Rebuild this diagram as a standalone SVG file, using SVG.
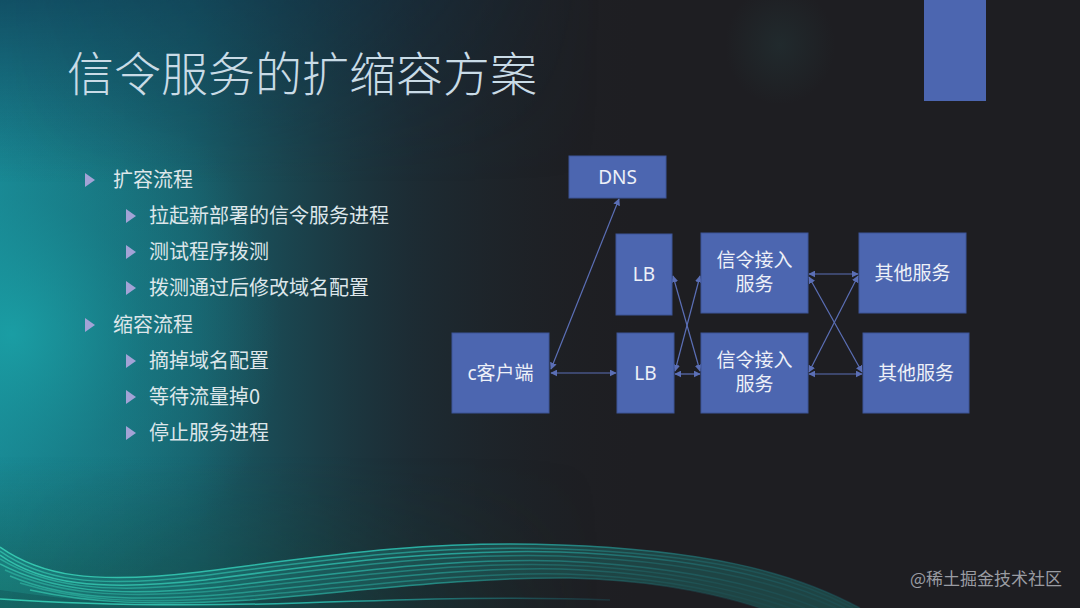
<svg xmlns="http://www.w3.org/2000/svg" width="1080" height="608" viewBox="0 0 1080 608">
<defs>
<linearGradient id="bgL" x1="0" y1="0" x2="1" y2="0">
<stop offset="0" stop-color="#1a8f9c" stop-opacity="0.95"/>
<stop offset="0.18" stop-color="#167583" stop-opacity="0.75"/>
<stop offset="0.38" stop-color="#1b3d4a" stop-opacity="0.45"/>
<stop offset="0.6" stop-color="#1e1e22" stop-opacity="0"/>
</linearGradient>
<radialGradient id="glowL" cx="0.02" cy="0.55" r="0.45">
<stop offset="0" stop-color="#1aa3a8" stop-opacity="0.8"/>
<stop offset="0.5" stop-color="#178a92" stop-opacity="0.35"/>
<stop offset="1" stop-color="#178a92" stop-opacity="0"/>
</radialGradient>
<linearGradient id="topDark" x1="0" y1="0" x2="0" y2="1">
<stop offset="0" stop-color="#0c2a45" stop-opacity="0.6"/>
<stop offset="0.3" stop-color="#0c2a45" stop-opacity="0"/>
<stop offset="0.75" stop-color="#0f3a30" stop-opacity="0"/>
<stop offset="1" stop-color="#10402f" stop-opacity="0.5"/>
</linearGradient>
<linearGradient id="fadeX" x1="0" y1="0" x2="1" y2="0">
<stop offset="0" stop-color="#fff"/>
<stop offset="0.5" stop-color="#fff" stop-opacity="0.6"/>
<stop offset="1" stop-color="#fff" stop-opacity="0"/>
</linearGradient>
<mask id="mX"><rect width="600" height="608" fill="url(#fadeX)"/></mask>
<radialGradient id="glowTR" cx="0.5" cy="0.5" r="0.5">
<stop offset="0" stop-color="#253c3e" stop-opacity="0.4"/>
<stop offset="1" stop-color="#253c3e" stop-opacity="0"/>
</radialGradient>
<linearGradient id="wave" x1="0" y1="0" x2="1" y2="0">
<stop offset="0" stop-color="#35c8b0"/>
<stop offset="0.55" stop-color="#28aaa0"/>
<stop offset="1" stop-color="#1c5a66" stop-opacity="0.35"/>
</linearGradient>
<marker id="ah" viewBox="0 0 10 10" refX="9" refY="5" markerWidth="7" markerHeight="7" orient="auto-start-reverse" markerUnits="userSpaceOnUse">
<path d="M0,0 L10,5 L0,10 Z" fill="#5b6fb6"/>
</marker>
<style>
.node rect{fill:#4c66b0;stroke:#3d5597;stroke-width:1}
.nt{font-family:"Noto Sans","Noto Sans CJK SC",sans-serif;font-size:19px;fill:#eef1f8;text-anchor:middle}
.conn line{stroke:#5b6fb6;stroke-width:1.2;marker-start:url(#ah);marker-end:url(#ah)}
.b1{font-family:"Noto Sans CJK SC",sans-serif;font-size:20px;fill:#dde6ea}
.tri{fill:#a3a3d6}
.wl{fill:none;stroke:url(#wave);stroke-width:1.5}
</style>
</defs>
<rect width="1080" height="608" fill="#1e1e22"/>
<rect width="1080" height="608" fill="url(#bgL)"/>
<rect width="600" height="608" fill="url(#glowL)"/>
<rect width="600" height="608" fill="url(#topDark)" mask="url(#mX)"/>
<ellipse cx="780" cy="45" rx="55" ry="60" fill="url(#glowTR)"/>
<g id="wave-lines">
<path d="M0,547 C40,575 90,585 200,572 C330,555 430,540 560,545 C700,550 790,570 860,608 L760,608 C720,595 660,580 570,578 C470,577 370,590 250,600 C150,606 90,603 0,590 Z" fill="#22a096" opacity="0.3"/>
<path class="wl" d="M0,547 C40,575 90,585 200,572 C330,555 430,540 560,545 C700,550 790,570 860,608" opacity="1"/>
<path class="wl" d="M0,551 C40,579 90,589 200,576 C330,559 430,545 560,549 C700,554 786,573 853,608" opacity="0.7"/>
<path class="wl" d="M0,555 C40,583 95,592 205,580 C335,563 435,549 560,552 C695,557 780,577 845,608" opacity="0.9"/>
<path class="wl" d="M0,559 C45,586 100,595 210,583 C340,567 440,553 560,556 C690,561 775,581 836,608" opacity="0.6"/>
<path class="wl" d="M0,564 C50,590 110,598 220,587 C350,572 450,558 560,561 C680,566 760,585 818,608" opacity="0.75"/>
<path class="wl" d="M5,570 C55,593 115,600 225,590 C355,576 455,562 560,565 C675,569 750,588 805,608" opacity="0.5"/>
<path class="wl" d="M10,576 C60,597 120,603 230,594 C360,581 460,567 560,569 C670,573 740,591 790,608" opacity="0.6"/>
<path class="wl" d="M20,583 C75,600 135,605 240,597 C365,586 465,572 565,574 C665,577 730,593 775,608" opacity="0.5"/>
<path class="wl" d="M30,590 C90,603 150,606 250,600 C370,590 470,577 570,578 C660,580 720,595 760,608" opacity="0.7"/>
<path class="wl" d="M0,599 C100,606 200,606 300,603 C420,599 520,596 610,600" opacity="1" stroke-width="2.5"/>
</g>
<rect x="924" y="0" width="62" height="101" fill="#4c66b0"/>
<text x="67" y="91" font-family="Noto Sans CJK SC,sans-serif" font-weight="300" font-size="47" fill="#c9dbe6">信令服务的扩缩容方案</text>
<g id="bullets">
<polygon class="tri" points="85,173 95,180 85,187"/>
<text class="b1" x="113" y="187">扩容流程</text>
<polygon class="tri" points="126,209 136,216 126,223"/>
<text class="b1" x="149" y="223">拉起新部署的信令服务进程</text>
<polygon class="tri" points="126,245 136,252 126,259"/>
<text class="b1" x="149" y="259">测试程序拨测</text>
<polygon class="tri" points="126,281 136,288 126,295"/>
<text class="b1" x="149" y="295">拨测通过后修改域名配置</text>
<polygon class="tri" points="85,318 95,325 85,332"/>
<text class="b1" x="113" y="332">缩容流程</text>
<polygon class="tri" points="126,354 136,361 126,368"/>
<text class="b1" x="149" y="368">摘掉域名配置</text>
<polygon class="tri" points="126,390 136,397 126,404"/>
<text class="b1" x="149" y="404">等待流量掉0</text>
<polygon class="tri" points="126,426 136,433 126,440"/>
<text class="b1" x="149" y="440">停止服务进程</text>
</g>
<g id="connectors" class="conn">
<line x1="551" y1="369" x2="619" y2="199"/>
<line x1="551" y1="373" x2="616" y2="373"/>
<line x1="673" y1="276" x2="700" y2="371"/>
<line x1="675" y1="371" x2="700" y2="276"/>
<line x1="675" y1="374" x2="700" y2="374"/>
<line x1="809" y1="274" x2="858" y2="274"/>
<line x1="809" y1="277" x2="862" y2="372"/>
<line x1="809" y1="372" x2="858" y2="276"/>
<line x1="809" y1="374" x2="862" y2="374"/>
</g>
<g id="dns" class="node"><rect x="569" y="156" width="97" height="42"/><text class="nt" x="617.5" y="184">DNS</text></g>
<g id="lb1" class="node"><rect x="616" y="234" width="56" height="81"/><text class="nt" x="644" y="281">LB</text></g>
<g id="lb2" class="node"><rect x="617" y="333" width="57" height="80"/><text class="nt" x="645.5" y="380">LB</text></g>
<g id="client" class="node"><rect x="452" y="333" width="97" height="80"/><text class="nt" x="500.5" y="380">c客户端</text></g>
<g id="sig1" class="node"><rect x="701" y="233" width="107" height="80"/><text class="nt" x="754.5" y="267">信令接入</text><text class="nt" x="754.5" y="291">服务</text></g>
<g id="sig2" class="node"><rect x="701" y="333" width="107" height="80"/><text class="nt" x="754.5" y="367">信令接入</text><text class="nt" x="754.5" y="391">服务</text></g>
<g id="other1" class="node"><rect x="859" y="233" width="107" height="80"/><text class="nt" x="912.5" y="280">其他服务</text></g>
<g id="other2" class="node"><rect x="863" y="333" width="106" height="80"/><text class="nt" x="916" y="380">其他服务</text></g>
<text x="1062" y="585" font-family="Noto Sans CJK SC,sans-serif" font-size="17" fill="#9a9ca2" text-anchor="end">@稀土掘金技术社区</text>
</svg>
